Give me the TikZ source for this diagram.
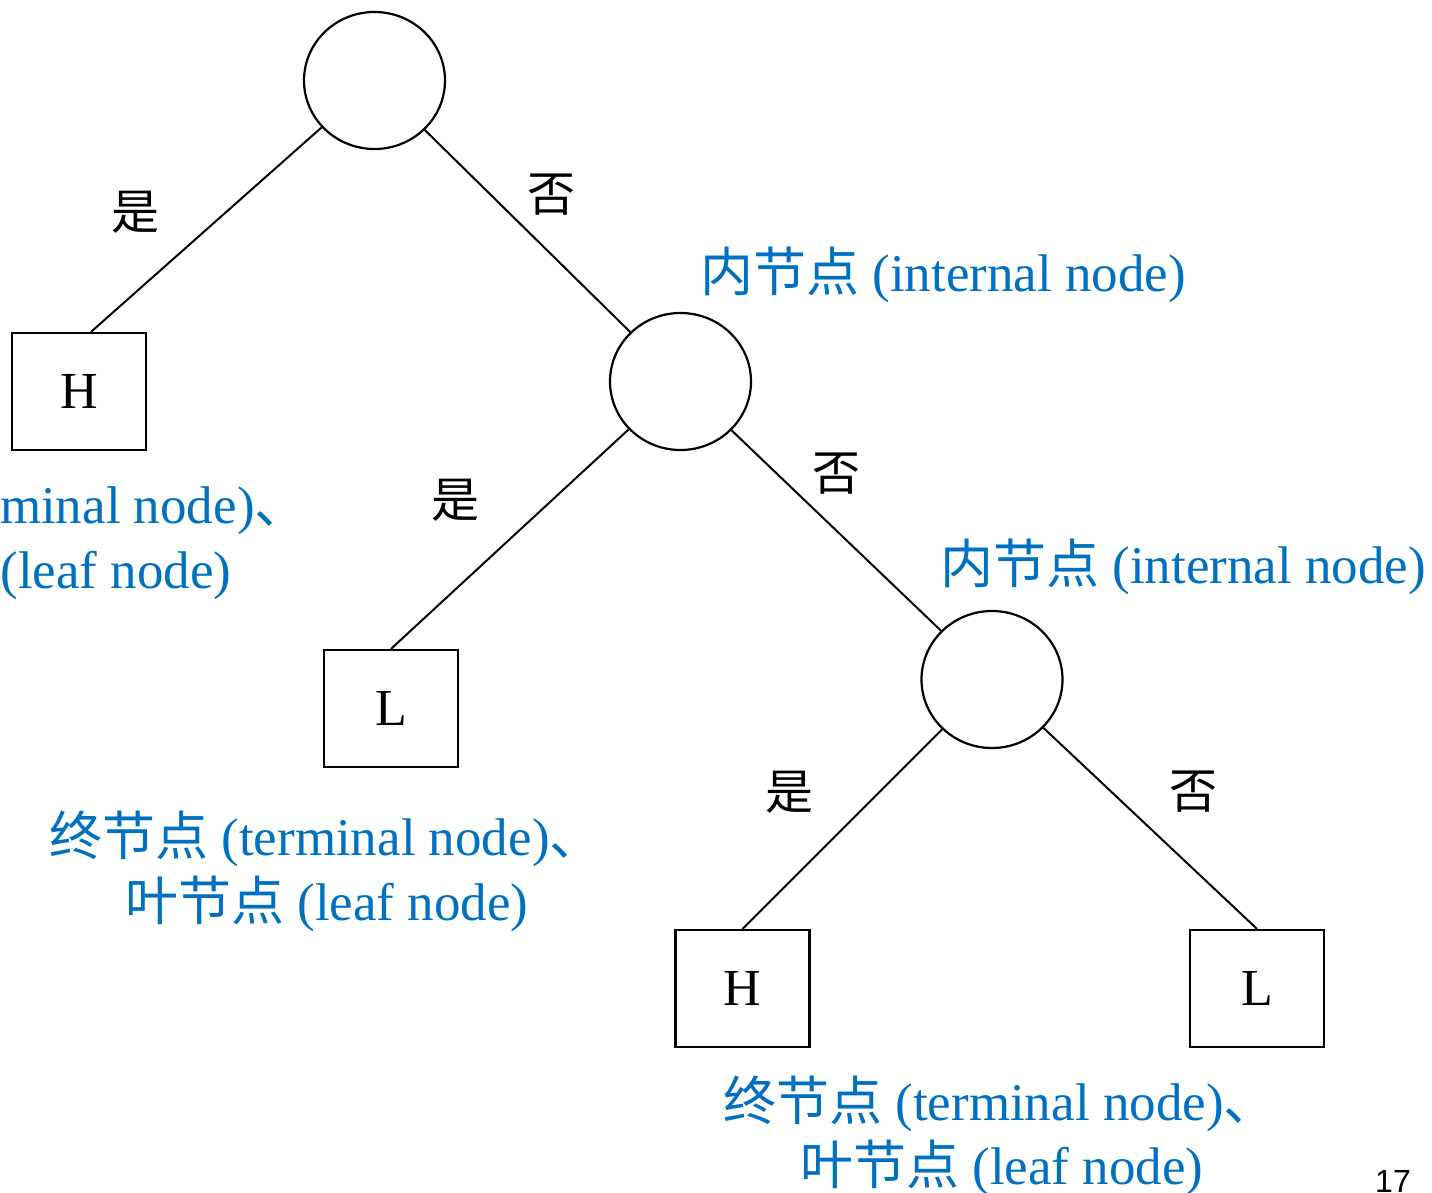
\documentclass[tikz,border=0pt]{standalone}
\usepackage{fontspec}
\setmainfont{Liberation Serif}
\newfontfamily\cjk{Noto Sans CJK SC}
\newfontfamily\sansnum{Liberation Sans}
\usetikzlibrary{shapes.geometric}
\definecolor{lblblue}{RGB}{0,112,192}
\begin{document}
\begin{tikzpicture}[x=1pt,y=-1pt,
  innernode/.style={draw, ellipse, line width=2.2pt, minimum width=141pt, minimum height=137pt, inner sep=0pt},
  leafnode/.style={draw, rectangle, line width=2.2pt, minimum width=134pt, minimum height=117pt, inner sep=0pt, font=\fontsize{52}{60}\selectfont},
  edgeline/.style={line width=2pt},
  yn/.style={font=\cjk\fontsize{48}{56}\selectfont, inner sep=0pt},
  lbl/.style={text=lblblue, font=\fontsize{53}{64}\selectfont, inner sep=0pt, anchor=base west},
]
\useasboundingbox (0,0) rectangle (1432,1193);
\clip (0,0) rectangle (1432,1193);

\node[innernode] (c1) at (374.5,80.5) {};
\node[innernode] (c2) at (680.5,381.5) {};
\node[innernode] (c3) at (992,679.5) {};
\node[leafnode] (h1) at (79,391.5) {H};
\node[leafnode] (l1) at (391,708.5) {L};
\node[leafnode] (h2) at (742.5,988.5) {H};
\node[leafnode] (l2) at (1257,988.5) {L};
\coordinate (h1top) at ([xshift=12pt]h1.north);

\draw[edgeline] (c1) -- (h1top);
\draw[edgeline] (c1) -- (c2);
\draw[edgeline] (c2) -- (l1.north);
\draw[edgeline] (c2) -- (c3);
\draw[edgeline] (c3) -- (h2.north);
\draw[edgeline] (c3) -- (l2.north);

\node[yn] (y1) at (135,212) {是};
\node[yn] (n1) at (551,195) {否};
\node[yn] (y2) at (455,500) {是};
\node[yn] (n2) at (836,474) {否};
\node[yn] (y3) at (789,792) {是};
\node[yn] (n3) at (1193,792) {否};

\node[lbl] (int1) at (700,291) {{\cjk 内节点} (internal node)};
\node[lbl] (int2) at (940,583) {{\cjk 内节点} (internal node)};

\node[lbl] (ta1) at (-246,523) {{\cjk 终节点} (terminal node){\cjk 、}};
\node[lbl] (tb1) at (-172,588) {{\cjk 叶节点} (leaf node)};
\node[lbl] (ta2) at (49,855) {{\cjk 终节点} (terminal node){\cjk 、}};
\node[lbl] (tb2) at (125,920) {{\cjk 叶节点} (leaf node)};
\node[lbl] (ta3) at (723,1120) {{\cjk 终节点} (terminal node){\cjk 、}};
\node[lbl] (tb3) at (800,1184) {{\cjk 叶节点} (leaf node)};

\node[font=\sansnum\fontsize{32}{36}\selectfont, anchor=base, inner sep=0pt] (pg) at (1393,1192) {17};
\end{tikzpicture}
\end{document}
